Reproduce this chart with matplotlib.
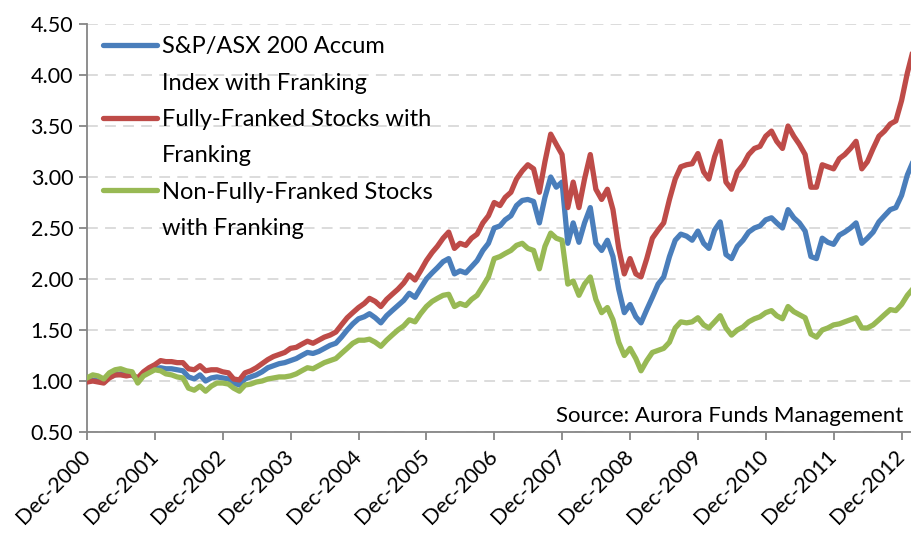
import matplotlib
matplotlib.use("Agg")
import matplotlib.pyplot as plt
import matplotlib.dates as mdates
from matplotlib.lines import Line2D
import pandas as pd

plt.rcParams['font.family'] = ['Lato', 'DejaVu Sans']

# month-end values, Dec-2000 .. Feb-2013 (relative to Dec-2000)
months = pd.date_range('2000-12-31', periods=147, freq='ME')

asx200 = [
    1.00, 1.01, 1.00, 0.99, 1.04, 1.06, 1.07, 1.06, 1.06, 1.01, 1.07, 1.10, 1.12,
    1.13, 1.12, 1.12, 1.11, 1.10, 1.04, 1.02, 1.06, 1.00, 1.03, 1.04, 1.03,
    1.02, 0.98, 0.96, 1.02, 1.04, 1.06, 1.09, 1.13, 1.15, 1.17, 1.18, 1.20,
    1.22, 1.25, 1.28, 1.27, 1.29, 1.32, 1.35, 1.37, 1.43, 1.50, 1.56, 1.61,
    1.63, 1.66, 1.62, 1.57, 1.64, 1.69, 1.74, 1.79, 1.86, 1.82, 1.91, 2.00,
    2.06, 2.11, 2.17, 2.20, 2.05, 2.08, 2.06, 2.12, 2.18, 2.28, 2.35, 2.50,
    2.52, 2.58, 2.62, 2.72, 2.77, 2.78, 2.76, 2.55, 2.80, 3.00, 2.90, 2.95,
    2.35, 2.55, 2.36, 2.55, 2.70, 2.35, 2.28, 2.38, 2.22, 1.90, 1.67, 1.75,
    1.63, 1.57, 1.70, 1.82, 1.95, 2.02, 2.22, 2.38, 2.44, 2.42, 2.38, 2.47,
    2.35, 2.30, 2.48, 2.56, 2.24, 2.20, 2.32, 2.38, 2.46, 2.50, 2.52, 2.58,
    2.60, 2.55, 2.50, 2.68, 2.60, 2.55, 2.47, 2.22, 2.20, 2.40, 2.36, 2.34,
    2.43, 2.46, 2.50, 2.55, 2.35, 2.40, 2.46, 2.56, 2.62, 2.68, 2.70, 2.82,
    3.02, 3.14,
]

fully_franked = [
    0.99, 1.00, 0.99, 0.98, 1.03, 1.06, 1.06, 1.05, 1.06, 1.03, 1.09, 1.13, 1.16,
    1.20, 1.19, 1.19, 1.18, 1.18, 1.12, 1.11, 1.15, 1.10, 1.11, 1.11, 1.09,
    1.08, 1.02, 1.01, 1.08, 1.10, 1.13, 1.17, 1.21, 1.24, 1.26, 1.28, 1.32,
    1.33, 1.36, 1.39, 1.37, 1.40, 1.43, 1.45, 1.48, 1.55, 1.62, 1.67, 1.72,
    1.76, 1.81, 1.78, 1.73, 1.80, 1.85, 1.90, 1.96, 2.04, 1.99, 2.08, 2.18,
    2.26, 2.32, 2.40, 2.46, 2.30, 2.35, 2.33, 2.40, 2.44, 2.55, 2.62, 2.75,
    2.72, 2.80, 2.85, 2.98, 3.06, 3.12, 3.08, 2.85, 3.15, 3.42, 3.32, 3.22,
    2.70, 2.95, 2.70, 2.98, 3.22, 2.88, 2.78, 2.88, 2.68, 2.30, 2.05, 2.20,
    2.05, 2.02, 2.20, 2.40, 2.48, 2.55, 2.78, 2.98, 3.10, 3.12, 3.13, 3.23,
    3.05, 2.98, 3.20, 3.35, 2.95, 2.88, 3.05, 3.12, 3.22, 3.28, 3.30, 3.40,
    3.45, 3.35, 3.28, 3.50, 3.40, 3.32, 3.22, 2.90, 2.90, 3.12, 3.10, 3.08,
    3.18, 3.22, 3.28, 3.35, 3.08, 3.15, 3.28, 3.40, 3.45, 3.52, 3.55, 3.75,
    4.02, 4.22,
]

non_fully_franked = [
    1.03, 1.06, 1.05, 1.02, 1.08, 1.11, 1.12, 1.10, 1.09, 0.98, 1.05, 1.08, 1.11,
    1.10, 1.07, 1.06, 1.04, 1.03, 0.93, 0.91, 0.95, 0.90, 0.95, 0.98, 0.98,
    0.97, 0.93, 0.90, 0.96, 0.97, 0.99, 1.00, 1.02, 1.03, 1.04, 1.04, 1.05,
    1.07, 1.10, 1.13, 1.12, 1.15, 1.18, 1.20, 1.22, 1.27, 1.32, 1.37, 1.40,
    1.40, 1.41, 1.38, 1.34, 1.40, 1.45, 1.50, 1.54, 1.60, 1.58, 1.66, 1.73,
    1.78, 1.81, 1.84, 1.85, 1.73, 1.76, 1.74, 1.80, 1.84, 1.93, 2.02, 2.20,
    2.22, 2.25, 2.28, 2.33, 2.35, 2.30, 2.28, 2.10, 2.32, 2.45, 2.40, 2.38,
    1.95, 1.98, 1.84, 1.95, 2.02, 1.80, 1.67, 1.72, 1.60, 1.38, 1.25, 1.32,
    1.22, 1.10, 1.20, 1.28, 1.30, 1.32, 1.38, 1.52, 1.58, 1.57, 1.58, 1.62,
    1.55, 1.52, 1.58, 1.64, 1.52, 1.45, 1.50, 1.53, 1.58, 1.61, 1.63, 1.67,
    1.69, 1.64, 1.61, 1.73, 1.68, 1.65, 1.62, 1.46, 1.43, 1.50, 1.52, 1.55,
    1.56, 1.58, 1.60, 1.62, 1.52, 1.52, 1.55, 1.60, 1.65, 1.70, 1.69, 1.75,
    1.84, 1.90,
]

series = [
    (asx200, '#4A7EBB', ['S&P/ASX 200 Accum', 'Index with Franking']),
    (fully_franked, '#BE4B48', ['Fully-Franked Stocks with', 'Franking']),
    (non_fully_franked, '#98B954', ['Non-Fully-Franked Stocks', 'with Franking']),
]

fig = plt.figure(figsize=(9.12, 5.38), dpi=100)
ax = fig.add_axes([87 / 912, 1 - 432 / 538, 1 - 87 / 912, 408 / 538])

handles, labels = [], []
for vals, col, lab in series:
    ax.plot(months, vals, color=col, lw=3.8, solid_joinstyle='round', zorder=3)
    handles += [Line2D([], [], color=col, lw=3.8, solid_capstyle='round'),
                Line2D([], [], color='none')]
    labels += lab

ax.set_ylim(0.5, 4.5)
ax.set_yticks([0.5 + 0.5 * i for i in range(9)])
ax.yaxis.set_major_formatter(matplotlib.ticker.FormatStrFormatter('%.2f'))
ax.set_xlim(pd.Timestamp('2000-12-31'), pd.Timestamp('2013-02-25'))
ax.xaxis.set_major_locator(mdates.MonthLocator(bymonth=12, bymonthday=31))
ax.xaxis.set_major_formatter(mdates.DateFormatter('Dec-%Y'))

ax.grid(axis='y', color='#D9D9D9', lw=1.3, ls=(0, (6, 4)), zorder=0)
for s in ['top', 'right']:
    ax.spines[s].set_visible(False)
for s in ['left', 'bottom']:
    ax.spines[s].set_color('#868686')
    ax.spines[s].set_linewidth(1.3)
ax.tick_params(axis='both', colors='#868686', length=6, width=1.3,
               labelcolor='black', labelsize=15.5)
ax.tick_params(axis='y', pad=4)
ax.tick_params(axis='x', pad=9)
for t in ax.get_xticklabels():
    t.set_rotation(45)
    t.set_ha('right')
    t.set_va('center')
    t.set_rotation_mode('anchor')

ax.legend(handles, labels, loc='upper left', bbox_to_anchor=(0.019, 0.97),
          frameon=False, fontsize=17, handlelength=2.3, handletextpad=0.2,
          labelspacing=0.65, borderpad=0, borderaxespad=0)

ax.text(0.99, 0.015, 'Source: Aurora Funds Management', transform=ax.transAxes,
        ha='right', va='bottom', fontsize=16)

fig.savefig('out.png', dpi=100)
